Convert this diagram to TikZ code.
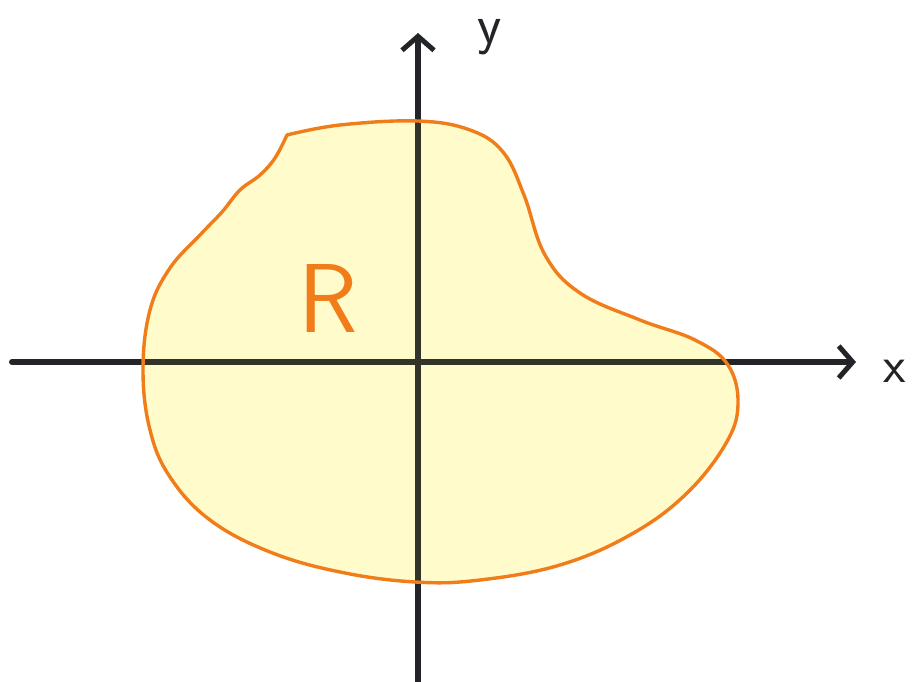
\documentclass[tikz,border=0pt]{standalone}
\usepackage{fontspec}
\usetikzlibrary{arrows.meta}
\definecolor{axisc}{RGB}{34,36,40}
\definecolor{outl}{RGB}{240,125,26}
\definecolor{regfill}{RGB}{255,253,215}
\definecolor{tint}{RGB}{255,240,60}
\tikzset{
  axis/.style={line width=6, draw=axisc, line cap=round, -{Straight Barb[length=14,width=32,line width=5]}},
  regionfill/.style={fill=regfill, draw=none},
  regiontint/.style={fill=tint, fill opacity=0.08, draw=none},
  regionline/.style={draw=outl, line width=3.4, line join=round},
  lbl/.style={text=axisc, inner sep=0, anchor=base},
}
\def\regionpath{plot[smooth, tension=0.65] coordinates {
 (287,135) (340,125) (418,121) (470,130) (503,152) (524,195) (545,255)
 (580,293) (640,320) (695,340) (728,365) (738,405) (725,445) (685,495)
 (630,535) (560,565) (480,580) (415,582) (340,572) (270,552) (210,520)
 (170,477) (150,430) (143,370) (150,310) (170,268) (200,235) (222,212)
 (240,190) (260,175) (275,158) (287,135)} -- cycle}
\begin{document}
\begin{tikzpicture}[x=1pt,y=-1pt]
\useasboundingbox (0,0) rectangle (916,682);
\coordinate (xs) at (12,362);
\coordinate (xe) at (856,362);
\coordinate (ys) at (418,682);
\coordinate (ye) at (418,33);
\path[regionfill] \regionpath;
\draw[axis] (xs) -- (xe);
\draw[axis] (ys) -- (ye);
\path[regiontint] \regionpath;
\draw[regionline] \regionpath;
\node[text=outl, inner sep=0, anchor=base, font=\fontsize{98}{98}\selectfont\sffamily] (R) at (328,332) {R};
\node[lbl, font=\fontsize{56}{56}\selectfont\sffamily] (ylab) at (490,44) {y};
\node[lbl, font=\fontsize{52}{52}\selectfont\sffamily] (xlab) at (895,382) {x};
\end{tikzpicture}
\end{document}
